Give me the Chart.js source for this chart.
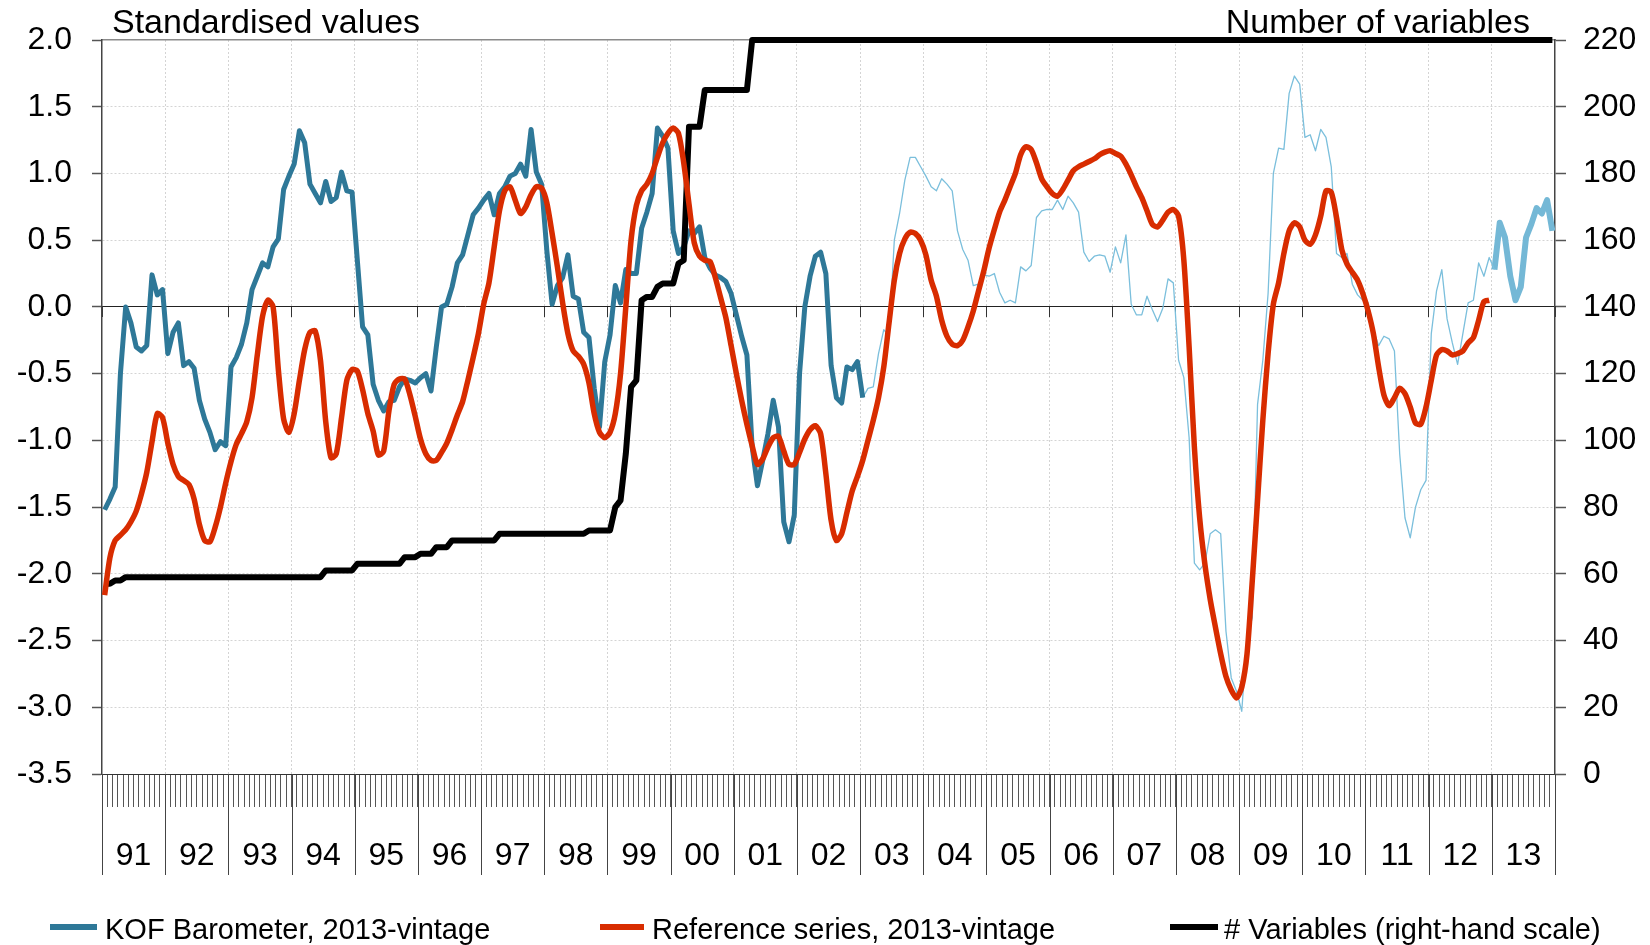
<!DOCTYPE html>
<html>
<head>
<meta charset="utf-8">
<script src="https://cdn.jsdelivr.net/npm/chart.js@4.4.0/dist/chart.umd.min.js"></script>
<style>
html,body{margin:0;padding:0;background:#fff;}
#wrap{position:relative;width:1650px;height:945px;overflow:hidden;font-family:"Liberation Sans",Arial,sans-serif;color:#000;}
#wrap canvas{position:absolute;left:0;top:0;}
.ttl{position:absolute;font-size:34px;line-height:34px;white-space:nowrap;top:4px;}
.lg{position:absolute;font-size:29px;line-height:29px;white-space:nowrap;top:915px;}
.sw{position:absolute;height:6px;top:924px;}
</style>
</head>
<body>
<div id="wrap">
<canvas id="c" width="1650" height="945"></canvas>
<div class="ttl" style="left:112px">Standardised values</div>
<div class="ttl" style="right:120px">Number of variables</div>
<div id="legend"></div>
</div>
<script>
// Year labels (x-axis categories), one per year 1991-2013
const yearLabels = ['91','92','93','94','95','96','97','98','99','00','01','02','03','04','05','06','07','08','09','10','11','12','13'];

// KOF Barometer, 2013-vintage: monthly, Jan 1991 - Jan 2003 (thick dark)
const kofEarly = [
 -1.52,-1.44,-1.35,-0.50, 0.00,-0.12,-0.30,-0.33,-0.29, 0.24, 0.09, 0.13,
 -0.35,-0.19,-0.12,-0.44,-0.41,-0.46,-0.70,-0.84,-0.94,-1.07,-1.01,-1.04,
 -0.45,-0.38,-0.28,-0.12, 0.13, 0.23, 0.33, 0.30, 0.45, 0.51, 0.88, 0.98,
  1.07, 1.32, 1.23, 0.92, 0.85, 0.78, 0.94, 0.79, 0.82, 1.01, 0.87, 0.86,
  0.35,-0.15,-0.21,-0.58,-0.70,-0.78,-0.71,-0.70,-0.60,-0.54,-0.55,-0.57,
 -0.53,-0.50,-0.63,-0.30, 0.00, 0.02, 0.15, 0.33, 0.39, 0.54, 0.69, 0.74,
  0.80, 0.85, 0.69, 0.85, 0.90, 0.98, 1.00, 1.07, 0.98, 1.33, 1.01, 0.92,
  0.42, 0.02, 0.16, 0.22, 0.39, 0.08, 0.06,-0.19,-0.23,-0.61,-0.90,-0.41,
 -0.21, 0.16, 0.03, 0.28, 0.25, 0.25, 0.59, 0.71, 0.85, 1.34, 1.28, 1.19,
  0.57, 0.40, 0.45, 0.57, 0.55, 0.60, 0.37, 0.29, 0.24, 0.22, 0.19, 0.10,
 -0.06,-0.22,-0.36,-1.05,-1.34,-1.15,-0.95,-0.70,-0.90,-1.61,-1.76,-1.56,
 -0.50, 0.00, 0.23, 0.38, 0.41, 0.25,-0.44,-0.68,-0.72,-0.45,-0.47,-0.41,
 -0.68
];
const kofEarlyStart = 0;

// KOF Barometer, 2013-vintage: monthly, Jan 2003 - Jan 2013 (thin light)
const kofMid = [
 -0.68,-0.61,-0.60,-0.35,-0.17,-0.22, 0.50, 0.70, 0.95, 1.12, 1.12, 1.05,
  0.98, 0.90, 0.87, 0.96, 0.92, 0.87, 0.57, 0.43, 0.35, 0.16, 0.17, 0.24,
  0.23, 0.25, 0.11, 0.03, 0.05, 0.03, 0.30, 0.27, 0.31, 0.67, 0.72, 0.73,
  0.73, 0.80, 0.73, 0.83, 0.78, 0.71, 0.41, 0.34, 0.38, 0.39, 0.38, 0.26,
  0.45, 0.33, 0.54, 0.02,-0.06,-0.06, 0.08,-0.02,-0.11,-0.01, 0.21, 0.18,
 -0.40,-0.53,-0.98,-1.92,-1.97,-1.92,-1.70,-1.67,-1.70,-2.43,-2.78,-2.88,
 -3.03,-2.47,-2.33,-0.73,-0.40, 0.10, 1.00, 1.19, 1.18, 1.60, 1.73, 1.67,
  1.27, 1.29, 1.17, 1.33, 1.27, 1.05, 0.40, 0.37, 0.40, 0.17, 0.09, 0.05,
  0.03,-0.17,-0.29,-0.22,-0.24,-0.33,-1.10,-1.58,-1.73,-1.50,-1.37,-1.30,
 -0.20, 0.12, 0.28,-0.09,-0.27,-0.43,-0.20, 0.03, 0.05, 0.33, 0.23, 0.37,
  0.28
];
const kofMidStart = 144;

// KOF Barometer, 2013-vintage: monthly, 2013 (thick light)
const kofRecent = [0.28, 0.63, 0.52, 0.23, 0.05, 0.15, 0.52, 0.62, 0.74, 0.70, 0.80, 0.57];
const kofRecentStart = 264;

// Reference series, 2013-vintage: monthly, Jan 1991 - Dec 2012
const referenceSeries = [
 -2.16,-1.88,-1.75,-1.71,-1.67,-1.61,-1.53,-1.40,-1.24,-1.01,-0.80,-0.83,
 -1.02,-1.18,-1.27,-1.30,-1.33,-1.44,-1.63,-1.75,-1.76,-1.65,-1.50,-1.32,
 -1.16,-1.03,-0.95,-0.86,-0.68,-0.36,-0.07, 0.05, 0.00,-0.47,-0.84,-0.94,
 -0.80,-0.55,-0.32,-0.19,-0.18,-0.40,-0.86,-1.13,-1.10,-0.83,-0.55,-0.47,
 -0.48,-0.62,-0.80,-0.93,-1.11,-1.08,-0.78,-0.58,-0.54,-0.54,-0.66,-0.82,
 -0.99,-1.10,-1.15,-1.15,-1.09,-1.02,-0.92,-0.81,-0.71,-0.55,-0.38,-0.20,
  0.02, 0.18, 0.45, 0.72, 0.87, 0.90, 0.80, 0.70, 0.75, 0.84, 0.90, 0.89,
  0.78, 0.55, 0.30, 0.03,-0.20,-0.33,-0.37,-0.43,-0.57,-0.80,-0.94,-0.98,
 -0.94,-0.80,-0.50, 0.00, 0.50, 0.76, 0.87, 0.92, 1.00, 1.12, 1.23, 1.30,
  1.34, 1.30, 1.08, 0.77, 0.48, 0.38, 0.35, 0.34, 0.22, 0.07,-0.08,-0.29,
 -0.50,-0.70,-0.88,-1.04,-1.18,-1.14,-1.05,-0.98,-0.97,-1.08,-1.18,-1.18,
 -1.09,-0.99,-0.92,-0.89,-0.95,-1.25,-1.60,-1.75,-1.70,-1.54,-1.38,-1.27,
 -1.15,-1.00,-0.85,-0.68,-0.45,-0.12, 0.20, 0.40, 0.51, 0.56, 0.55, 0.50,
  0.39, 0.20, 0.08,-0.10,-0.22,-0.28,-0.29,-0.25,-0.15,-0.03, 0.12, 0.27,
  0.44, 0.58, 0.71, 0.80, 0.90, 1.00, 1.14, 1.20, 1.18, 1.08, 0.96, 0.90,
  0.85, 0.83, 0.88, 0.95, 1.02, 1.05, 1.07, 1.09, 1.11, 1.14, 1.16, 1.17,
  1.15, 1.13, 1.07, 0.99, 0.90, 0.82, 0.72, 0.62, 0.60, 0.65, 0.71, 0.73,
  0.68, 0.35,-0.30,-1.05,-1.58,-1.93,-2.19,-2.40,-2.60,-2.77,-2.87,-2.93,
 -2.85,-2.60,-2.05,-1.45,-0.85,-0.35, 0.02, 0.18, 0.40, 0.57, 0.63, 0.60,
  0.50, 0.47, 0.54, 0.68, 0.87, 0.86, 0.67, 0.43, 0.32, 0.26, 0.20, 0.10,
 -0.03,-0.20,-0.45,-0.66,-0.74,-0.68,-0.61,-0.65,-0.75,-0.87,-0.88,-0.75,
 -0.55,-0.36,-0.32,-0.33,-0.36,-0.35,-0.33,-0.27,-0.23,-0.10, 0.04, 0.05
];
const referenceStart = 0;

// Number of variables (right-hand scale): monthly, Jan 1991 - Dec 2013
const variableCount = [
  57, 57, 58, 58, 59, 59, 59, 59, 59, 59, 59, 59,
  59, 59, 59, 59, 59, 59, 59, 59, 59, 59, 59, 59,
  59, 59, 59, 59, 59, 59, 59, 59, 59, 59, 59, 59,
  59, 59, 59, 59, 59, 59, 61, 61, 61, 61, 61, 61,
  63, 63, 63, 63, 63, 63, 63, 63, 63, 65, 65, 65,
  66, 66, 66, 68, 68, 68, 70, 70, 70, 70, 70, 70,
  70, 70, 70, 72, 72, 72, 72, 72, 72, 72, 72, 72,
  72, 72, 72, 72, 72, 72, 72, 72, 73, 73, 73, 73,
  73, 80, 82, 96,116,118,142,143,143,146,147,147,
 147,153,154,194,194,194,205,205,205,205,205,205,
 205,205,205,220,220,220,220,220,220,220,220,220,
 220,220,220,220,220,220,220,220,220,220,220,220,
 220,220,220,220,220,220,220,220,220,220,220,220,
 220,220,220,220,220,220,220,220,220,220,220,220,
 220,220,220,220,220,220,220,220,220,220,220,220,
 220,220,220,220,220,220,220,220,220,220,220,220,
 220,220,220,220,220,220,220,220,220,220,220,220,
 220,220,220,220,220,220,220,220,220,220,220,220,
 220,220,220,220,220,220,220,220,220,220,220,220,
 220,220,220,220,220,220,220,220,220,220,220,220,
 220,220,220,220,220,220,220,220,220,220,220,220,
 220,220,220,220,220,220,220,220,220,220,220,220,
 220,220,220,220,220,220,220,220,220,220,220,220
];
const variableStart = 0;

const MONTHS = yearLabels.length * 12;
function toPoints(values, start) {
  return values.map((v, i) => ({ x: start + i + 0.5, y: v }));
}

const COL = { kof: '#2e7898', kofLight: '#7bbfdc', kofLightThick: '#74b8d6', ref: '#d82c00', vars: '#000000' };

const yearSeparators = {
  id: 'yearSeparators',
  afterDraw(chart) {
    const s = chart.scales.x, ctx = chart.ctx;
    ctx.save();
    ctx.strokeStyle = '#444';
    ctx.lineWidth = 1;
    for (let k = 0; k <= yearLabels.length; k++) {
      const px = Math.round(s.getPixelForValue(k * 12)) + 0.5;
      ctx.beginPath();
      ctx.moveTo(px, s.top);
      ctx.lineTo(px, s.top + 101);
      ctx.stroke();
    }
    ctx.restore();
  }
};

Chart.defaults.font.family = '"Liberation Sans", Arial, sans-serif';
Chart.defaults.font.size = 32;
Chart.defaults.color = '#000';

const edgeTransparent = (lo, hi, col) => (ctx) => {
  const v = ctx.tick ? ctx.tick.value : null;
  return (v === lo || v === hi) ? 'rgba(0,0,0,0)' : col;
};

const chart = new Chart(document.getElementById('c'), {
  type: 'line',
  data: {
    datasets: [
      { label: 'Reference series, 2013-vintage', data: toPoints(referenceSeries, referenceStart),
        borderColor: COL.ref, borderWidth: 5.5, xAxisID: 'x', yAxisID: 'y', order: 0, tension: 0.25 },
      { label: '# Variables (right-hand scale)', data: toPoints(variableCount, variableStart),
        borderColor: COL.vars, borderWidth: 6, xAxisID: 'x', yAxisID: 'y2', order: 1, clip: false },
      { label: 'KOF Barometer, 2013-vintage', data: toPoints(kofEarly, kofEarlyStart),
        borderColor: COL.kof, borderWidth: 5, xAxisID: 'x', yAxisID: 'y', order: 2 },
      { label: 'KOF Barometer, 2013-vintage (2003-2012)', data: toPoints(kofMid, kofMidStart),
        borderColor: COL.kofLight, borderWidth: 1.3, xAxisID: 'x', yAxisID: 'y', order: 3 },
      { label: 'KOF Barometer, 2013-vintage (2013)', data: toPoints(kofRecent, kofRecentStart),
        borderColor: COL.kofLightThick, borderWidth: 6, xAxisID: 'x', yAxisID: 'y', order: 4 }
    ]
  },
  options: {
    responsive: false,
    devicePixelRatio: 1,
    animation: false,
    layout: { padding: { top: 40, left: 0, right: 0, bottom: 0 } },
    plugins: { legend: { display: false }, tooltip: { enabled: false } },
    elements: { point: { radius: 0 }, line: { borderJoinStyle: 'round', fill: false } },
    scales: {
      x: {
        type: 'linear', position: 'bottom', min: 0, max: MONTHS,
        afterFit: (s) => { s.height = 171; },
        ticks: {
          stepSize: 1, maxTicksLimit: 1000, autoSkip: false, maxRotation: 0, minRotation: 0, padding: 30,
          font: { size: 32 }, color: '#000',
          callback: (v) => (v % 12 === 6 ? yearLabels[(v - 6) / 12] : '')
        },
        grid: { drawOnChartArea: false, drawTicks: true, tickLength: 33, tickColor: '#555', tickWidth: 1 },
        border: { color: '#333', width: 1 }
      },
      xt: {
        type: 'linear', position: 'top', min: 0, max: MONTHS,
        afterFit: (s) => { s.height = 0; },
        ticks: { display: false }, grid: { display: false },
        border: { color: '#8a8a8a', width: 1.5 }
      },
      xz: {
        type: 'linear', position: { y: 0 }, min: 0, max: MONTHS,
        ticks: { display: false, stepSize: 12, maxTicksLimit: 1000 },
        grid: { color: edgeTransparent(0, MONTHS, '#d4d4d4'), lineWidth: 1, tickLength: 10, tickColor: '#333', tickWidth: 1 },
        border: { color: '#222', width: 1, dash: [2, 2] }
      },
      y: {
        type: 'linear', position: 'left', min: -3.5, max: 2.0,
        afterFit: (s) => { s.width = 102; },
        ticks: { stepSize: 0.5, padding: 20, font: { size: 32 }, color: '#000', callback: (v) => v.toFixed(1) },
        grid: { color: edgeTransparent(-3.5, 2.0, '#d4d4d4'), lineWidth: 1, tickLength: 10, tickColor: '#555', tickWidth: 1.5 },
        border: { color: '#444', width: 1.5, dash: [2, 2] }
      },
      y2: {
        type: 'linear', position: 'right', min: 0, max: 220,
        afterFit: (s) => { s.width = 95; },
        ticks: { stepSize: 20, padding: 17, font: { size: 32 }, color: '#000' },
        grid: { drawOnChartArea: false, tickLength: 11, tickColor: '#555', tickWidth: 1.5 },
        border: { color: '#444', width: 1.5 }
      }
    }
  },
  plugins: [yearSeparators]
});

// HTML legend built from the datasets
const legendItems = [
  { ds: 2, sw: [50, 47], tx: 105 },
  { ds: 0, sw: [600, 44], tx: 652 },
  { ds: 1, sw: [1170, 48], tx: 1224 }
];
const lg = document.getElementById('legend');
legendItems.forEach((it) => {
  const d = chart.data.datasets[it.ds];
  const sw = document.createElement('div');
  sw.className = 'sw';
  sw.style.left = it.sw[0] + 'px';
  sw.style.width = it.sw[1] + 'px';
  sw.style.background = d.borderColor;
  lg.appendChild(sw);
  const t = document.createElement('div');
  t.className = 'lg';
  t.style.left = it.tx + 'px';
  t.textContent = d.label;
  lg.appendChild(t);
});
</script>
</body>
</html>
